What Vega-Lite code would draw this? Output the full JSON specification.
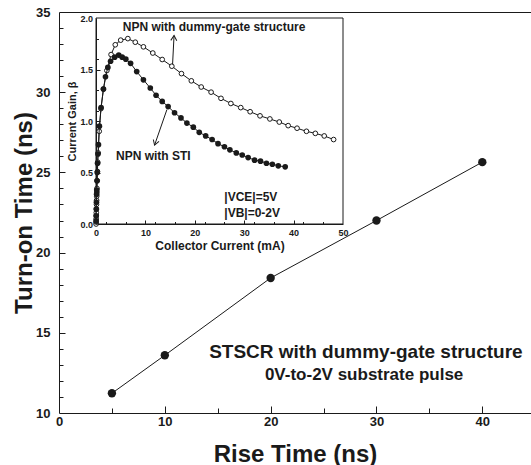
{
  "$schema": "https://vega.github.io/schema/vega-lite/v6.json",
  "width": 472,
  "height": 401,
  "autosize": {"type": "none"},
  "padding": {"left": 59, "top": 12, "right": 0, "bottom": 52},
  "background": "white",
  "config": {
    "view": {"stroke": null},
    "font": "Liberation Sans",
    "axis": {
      "grid": false,
      "domainColor": "#1a1a1a",
      "tickColor": "#1a1a1a",
      "labelColor": "#1a1a1a",
      "titleColor": "#1a1a1a",
      "labelFont": "Liberation Sans",
      "titleFont": "Liberation Sans",
      "labelFontWeight": "bold",
      "titleFontWeight": "bold",
      "domainWidth": 1,
      "tickWidth": 1,
      "labelFlush": false,
      "labelOverlap": false
    }
  },
  "datasets": {
    "main": [
      {"rise": 5, "turnon": 11.23},
      {"rise": 10, "turnon": 13.6},
      {"rise": 20, "turnon": 18.42},
      {"rise": 30, "turnon": 22.0},
      {"rise": 40, "turnon": 25.64}
    ],
    "dummy": [
      {"I": 0.02, "beta": 0.0}, {"I": 0.03, "beta": 0.02}, {"I": 0.04, "beta": 0.05}, {"I": 0.05, "beta": 0.08},
      {"I": 0.06, "beta": 0.11}, {"I": 0.08, "beta": 0.145}, {"I": 0.1, "beta": 0.19}, {"I": 0.12, "beta": 0.23},
      {"I": 0.14, "beta": 0.27}, {"I": 0.17, "beta": 0.31}, {"I": 0.2, "beta": 0.345}, {"I": 0.25, "beta": 0.42},
      {"I": 0.3, "beta": 0.51}, {"I": 0.35, "beta": 0.6}, {"I": 0.45, "beta": 0.69}, {"I": 0.65, "beta": 0.9},
      {"I": 1.0, "beta": 1.12}, {"I": 1.5, "beta": 1.31}, {"I": 2.2, "beta": 1.49}, {"I": 3.05, "beta": 1.645},
      {"I": 3.9, "beta": 1.74}, {"I": 5.0, "beta": 1.785}, {"I": 6.45, "beta": 1.8}, {"I": 7.95, "beta": 1.765},
      {"I": 9.6, "beta": 1.72}, {"I": 11.5, "beta": 1.66}, {"I": 13.4, "beta": 1.597}, {"I": 15.35, "beta": 1.532},
      {"I": 17.3, "beta": 1.46}, {"I": 19.3, "beta": 1.39}, {"I": 21.3, "beta": 1.33}, {"I": 23.3, "beta": 1.28},
      {"I": 25.3, "beta": 1.22}, {"I": 27.3, "beta": 1.17}, {"I": 29.3, "beta": 1.13}, {"I": 31.2, "beta": 1.09},
      {"I": 33.2, "beta": 1.05}, {"I": 35.2, "beta": 1.02}, {"I": 37.1, "beta": 0.99}, {"I": 38.9, "beta": 0.955},
      {"I": 40.7, "beta": 0.93}, {"I": 42.6, "beta": 0.9}, {"I": 44.4, "beta": 0.88}, {"I": 46.2, "beta": 0.855},
      {"I": 48.1, "beta": 0.82}
    ],
    "sti": [
      {"I": 0.02, "beta": 0.03}, {"I": 0.04, "beta": 0.08}, {"I": 0.06, "beta": 0.145}, {"I": 0.09, "beta": 0.21},
      {"I": 0.13, "beta": 0.29}, {"I": 0.15, "beta": 0.33}, {"I": 0.2, "beta": 0.42}, {"I": 0.25, "beta": 0.5},
      {"I": 0.32, "beta": 0.59}, {"I": 0.4, "beta": 0.68}, {"I": 0.5, "beta": 0.77}, {"I": 0.69, "beta": 0.95},
      {"I": 1.03, "beta": 1.13}, {"I": 1.51, "beta": 1.31}, {"I": 1.92, "beta": 1.43}, {"I": 2.4, "beta": 1.52},
      {"I": 2.95, "beta": 1.58}, {"I": 3.78, "beta": 1.62}, {"I": 4.6, "beta": 1.64}, {"I": 5.3, "beta": 1.62},
      {"I": 6.04, "beta": 1.6}, {"I": 7.0, "beta": 1.56}, {"I": 8.24, "beta": 1.48}, {"I": 9.6, "beta": 1.4},
      {"I": 10.99, "beta": 1.32}, {"I": 12.16, "beta": 1.25}, {"I": 13.4, "beta": 1.19}, {"I": 14.6, "beta": 1.14},
      {"I": 15.9, "beta": 1.08}, {"I": 17.2, "beta": 1.03}, {"I": 18.4, "beta": 0.98}, {"I": 19.7, "beta": 0.94},
      {"I": 20.9, "beta": 0.89}, {"I": 22.2, "beta": 0.855}, {"I": 23.5, "beta": 0.82}, {"I": 24.7, "beta": 0.78},
      {"I": 26.0, "beta": 0.75}, {"I": 27.1, "beta": 0.72}, {"I": 28.4, "beta": 0.69}, {"I": 29.6, "beta": 0.67},
      {"I": 30.8, "beta": 0.645}, {"I": 32.1, "beta": 0.62}, {"I": 33.3, "beta": 0.61}, {"I": 34.5, "beta": 0.59},
      {"I": 35.7, "beta": 0.58}, {"I": 36.9, "beta": 0.565}, {"I": 38.3, "beta": 0.555}
    ]
  },
  "layer": [
    {
      "data": {"name": "main"},
      "mark": {"type": "line", "color": "#1a1a1a", "strokeWidth": 1},
      "encoding": {
        "x": {
          "field": "rise", "type": "quantitative",
          "scale": {"domain": [0, 44.6], "nice": false, "zero": false},
          "axis": {"orient": "bottom", "values": [0, 10, 20, 30, 40], "ticks": false, "labelPadding": 2,
                   "labelFontSize": 13, "title": "Rise Time (ns)", "titleFontSize": 24, "titlePadding": 14}
        },
        "y": {
          "field": "turnon", "type": "quantitative",
          "scale": {"domain": [10, 35], "nice": false, "zero": false},
          "axis": {"orient": "left", "values": [10, 15, 20, 25, 30, 35], "ticks": false, "labelPadding": 9,
                   "labelFontSize": 13, "title": "Turn-on Time (ns)", "titleFontSize": 24, "titlePadding": -1}
        }
      }
    },
    {
      "data": {"name": "main"},
      "mark": {"type": "point", "filled": true, "color": "#1a1a1a", "size": 70, "opacity": 1},
      "encoding": {
        "x": {
          "field": "rise", "type": "quantitative",
          "scale": {"domain": [0, 44.6], "nice": false, "zero": false},
          "axis": {"orient": "top", "offset": -401, "values": [10, 20, 30, 40], "tickSize": 7, "labels": false, "domain": false, "title": null}
        },
        "y": {
          "field": "turnon", "type": "quantitative",
          "scale": {"domain": [10, 35], "nice": false, "zero": false},
          "axis": {"orient": "right", "offset": -472, "values": [15, 20, 25, 30], "tickSize": 6, "labels": false, "domain": false, "title": null}
        }
      }
    },
    {
      "data": {"values": [{}]},
      "mark": {"type": "text", "text": "STSCR with dummy-gate structure", "fontSize": 19, "fontWeight": "bold", "font": "Liberation Sans", "color": "#1a1a1a"},
      "encoding": {
        "x": {"datum": 29, "type": "quantitative", "scale": {"domain": [0, 44.6], "nice": false, "zero": false},
              "axis": {"orient": "top", "offset": -401, "values": [5, 15, 25, 35], "tickSize": 5, "labels": false, "domain": false, "title": null}},
        "y": {"datum": 13.83, "type": "quantitative", "scale": {"domain": [10, 35], "nice": false, "zero": false},
              "axis": {"orient": "right", "offset": -472, "values": [11, 12, 13, 14, 16, 17, 18, 19, 21, 22, 23, 24, 26, 27, 28, 29, 31, 32, 33, 34],
                       "tickSize": 4, "labels": false, "domain": false, "title": null}}
      }
    },
    {
      "data": {"values": [{}]},
      "mark": {"type": "text", "text": "0V-to-2V substrate pulse", "fontSize": 17, "fontWeight": "bold", "font": "Liberation Sans", "color": "#1a1a1a"},
      "encoding": {
        "x": {"datum": 28.83, "type": "quantitative", "scale": {"domain": [0, 44.6], "nice": false, "zero": false},
              "axis": {"orient": "top", "labels": false, "ticks": false, "domain": true, "title": null}},
        "y": {"datum": 12.37, "type": "quantitative", "scale": {"domain": [10, 35], "nice": false, "zero": false}, "axis": null}
      }
    },
    {
      "layer": [
        {
          "data": {"name": "dummy"},
          "mark": {"type": "line", "color": "#1a1a1a", "strokeWidth": 1},
          "encoding": {
            "x": {
              "field": "I", "type": "quantitative",
              "scale": {"domain": [0, 50], "range": [37, 284], "nice": false, "zero": false},
              "axis": {"orient": "bottom", "offset": -189, "values": [0, 10, 20, 30, 40, 50], "ticks": false, "labelPadding": 4.5,
                       "labelFontSize": 9, "title": "Collector Current (mA)", "titleFontSize": 12, "titlePadding": 2.5}
            },
            "y": {
              "field": "beta", "type": "quantitative",
              "scale": {"domain": [0, 2], "range": [212, 6], "nice": false, "zero": false},
              "axis": {"orient": "left", "offset": -37, "values": [0, 0.5, 1, 1.5, 2], "format": ".1f", "ticks": false, "labelPadding": 3.5,
                       "labelFontSize": 9, "title": "Current Gain, β", "titleFontSize": 11,
                       "titleX": -19, "titleY": 109, "titleAngle": 270, "titleAlign": "center", "titleBaseline": "bottom", "titleAnchor": null}
            }
          }
        },
        {
          "data": {"name": "dummy"},
          "mark": {"type": "point", "filled": true, "fill": "white", "stroke": "#1a1a1a", "strokeWidth": 1, "size": 22, "opacity": 1},
          "encoding": {
            "x": {"field": "I", "type": "quantitative"},
            "y": {"field": "beta", "type": "quantitative"}
          }
        },
        {
          "data": {"values": [{}]},
          "mark": {"type": "rect", "fill": null, "fillOpacity": 0, "stroke": "#1a1a1a", "strokeWidth": 1},
          "encoding": {
            "x": {"datum": 0, "type": "quantitative"},
            "x2": {"datum": 50},
            "y": {"datum": 0, "type": "quantitative"},
            "y2": {"datum": 2}
          }
        },
        {
          "data": {"values": [{}]},
          "mark": {"type": "text", "text": "NPN with dummy-gate structure", "fontSize": 12, "fontWeight": "bold", "font": "Liberation Sans", "color": "#1a1a1a"},
          "encoding": {"x": {"datum": 23.9, "type": "quantitative"}, "y": {"datum": 1.91, "type": "quantitative"}}
        },
        {
          "data": {"values": [{}]},
          "mark": {"type": "text", "text": "NPN with STI", "fontSize": 12, "fontWeight": "bold", "font": "Liberation Sans", "color": "#1a1a1a"},
          "encoding": {"x": {"datum": 11.6, "type": "quantitative"}, "y": {"datum": 0.665, "type": "quantitative"}}
        },
        {
          "data": {"values": [{}]},
          "mark": {"type": "rule", "color": "#1a1a1a", "strokeWidth": 1},
          "encoding": {
            "x": {"datum": 15.5, "type": "quantitative"}, "y": {"datum": 1.55, "type": "quantitative"},
            "x2": {"datum": 15.8}, "y2": {"datum": 1.83}
          }
        },
        {
          "data": {"values": [{}]},
          "mark": {"type": "point", "shape": "M-0.6,1L0,0L0.6,1", "filled": false, "stroke": "#1a1a1a", "strokeWidth": 1, "size": 100, "angle": 3, "opacity": 1},
          "encoding": {"x": {"datum": 15.8, "type": "quantitative"}, "y": {"datum": 1.83, "type": "quantitative"}}
        },
        {
          "data": {"values": [{}]},
          "mark": {"type": "rule", "color": "#1a1a1a", "strokeWidth": 1},
          "encoding": {
            "x": {"datum": 14.35, "type": "quantitative"}, "y": {"datum": 1.11, "type": "quantitative"},
            "x2": {"datum": 11.85}, "y2": {"datum": 0.765}
          }
        },
        {
          "data": {"values": [{}]},
          "mark": {"type": "point", "shape": "M-0.6,1L0,0L0.6,1", "filled": false, "stroke": "#1a1a1a", "strokeWidth": 1, "size": 100, "angle": 199, "opacity": 1},
          "encoding": {"x": {"datum": 11.85, "type": "quantitative"}, "y": {"datum": 0.765, "type": "quantitative"}}
        }
      ]
    },
    {
      "data": {"name": "sti"},
      "layer": [
        {
          "mark": {"type": "line", "color": "#1a1a1a", "strokeWidth": 1},
          "encoding": {
            "x": {
              "field": "I", "type": "quantitative",
              "scale": {"domain": [0, 50], "range": [37, 284], "nice": false, "zero": false},
              "axis": {"orient": "top", "offset": -212, "values": [10, 20, 30, 40], "tickSize": 4, "labels": false, "domain": false, "title": null}
            },
            "y": {
              "field": "beta", "type": "quantitative",
              "scale": {"domain": [0, 2], "range": [212, 6], "nice": false, "zero": false},
              "axis": {"orient": "right", "offset": -435, "values": [0.5, 1, 1.5], "tickSize": 4, "labels": false, "domain": false, "title": null}
            }
          }
        },
        {
          "mark": {"type": "point", "filled": true, "color": "#1a1a1a", "size": 32, "opacity": 1},
          "encoding": {
            "x": {"field": "I", "type": "quantitative"},
            "y": {"field": "beta", "type": "quantitative"}
          }
        }
      ]
    },
    {
      "data": {"values": [{}]},
      "layer": [
        {
          "mark": {"type": "text", "text": "|VCE|=5V", "align": "left", "fontSize": 12, "fontWeight": "bold", "font": "Liberation Sans", "color": "#1a1a1a"},
          "encoding": {
            "x": {"datum": 25.97, "type": "quantitative",
                  "scale": {"domain": [0, 50], "range": [37, 284], "nice": false, "zero": false},
                  "axis": {"orient": "top", "offset": -212, "values": [2, 4, 6, 8, 12, 14, 16, 18, 22, 24, 26, 28, 32, 34, 36, 38, 42, 44, 46, 48],
                           "tickSize": 2.5, "labels": false, "domain": false, "title": null}},
            "y": {"datum": 0.264, "type": "quantitative",
                  "scale": {"domain": [0, 2], "range": [212, 6], "nice": false, "zero": false},
                  "axis": {"orient": "right", "offset": -435, "values": [0.1, 0.2, 0.3, 0.4, 0.6, 0.7, 0.8, 0.9, 1.1, 1.2, 1.3, 1.4, 1.6, 1.7, 1.8, 1.9],
                           "tickSize": 2.5, "labels": false, "domain": false, "title": null}}
          }
        },
        {
          "mark": {"type": "text", "text": "|VB|=0-2V", "align": "left", "fontSize": 12, "fontWeight": "bold", "font": "Liberation Sans", "color": "#1a1a1a"},
          "encoding": {"x": {"datum": 25.97, "type": "quantitative"}, "y": {"datum": 0.109, "type": "quantitative"}}
        }
      ]
    }
  ],
  "resolve": {"scale": {"x": "independent", "y": "independent"}}
}
